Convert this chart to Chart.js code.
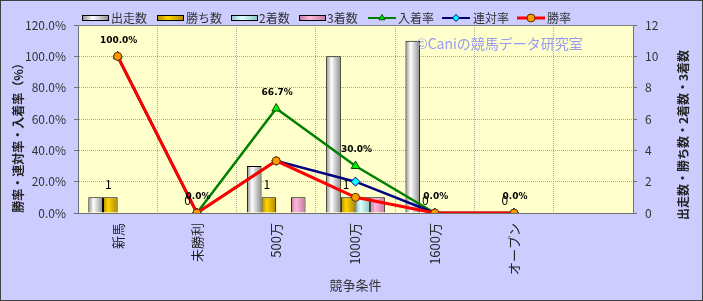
<!DOCTYPE html>
<html>
<head>
<meta charset="utf-8">
<script src="https://cdn.jsdelivr.net/npm/chart.js@4.4.0/dist/chart.umd.min.js"></script>
<style>
  html, body { margin: 0; padding: 0; background: #ccccff; }
  canvas { display: block; }
</style>
</head>
<body>
<canvas id="chart" width="703" height="301"></canvas>
<script>
// data
const labels = ['新馬', '未勝利', '500万', '1000万', '1600万', 'オープン', ''];
const starts = [1, 0, 3, 10, 11, 0, null];
const wins = [1, 0, 1, 1, 0, 0, null];
const seconds = [0, 0, 0, 1, 0, 0, null];
const thirds = [0, 0, 1, 1, 0, 0, null];
const placeRate = [100, 0, 66.7, 30, 0, 0, null];
const rentaiRate = [100, 0, 33.3, 20, 0, 0, null];
const winRate = [100, 0, 33.3, 10, 0, 0, null];

const FONT = '"Noto Sans CJK JP", "DejaVu Sans", sans-serif';
const CAT_PCT = 0.74;
const SHADES = [
    ['#e0e0e0', '#ffffff', '#8c8c8c'],
    ['#ffcc00', '#ffd400', '#b08800'],
    ['#ccffff', '#dfffff', '#88c4c4'],
    ['#f0a8d0', '#ffb8dc', '#c07aa0']
];

// cylinder-ish shading across each bar, worked out from the category scale
function shade(k) {
    const [base, light, dark] = SHADES[k];
    return (c) => {
        const sc = c.chart.scales.x;
        if (!sc || !isFinite(sc.width) || sc.width <= 0) return base;
        const bw = sc.width / labels.length * CAT_PCT / 4;
        const x0 = sc.getPixelForValue(c.dataIndex) - 2 * bw + k * bw;
        if (!isFinite(x0)) return base;
        const g = c.chart.ctx.createLinearGradient(x0, 0, x0 + bw, 0);
        g.addColorStop(0, dark);
        g.addColorStop(0.35, light);
        g.addColorStop(1, dark);
        return g;
    };
}
const noZeroBorder = (c) => (c.raw ? 1 : 0);

function bar(label, data, k) {
    return {
        type: 'bar', label: label, data: data, yAxisID: 'y1', order: 10 + k,
        backgroundColor: shade(k),
        borderColor: '#000', borderWidth: noZeroBorder,
        barPercentage: 1, categoryPercentage: CAT_PCT
    };
}

const data = {
    labels: labels,
    datasets: [
        bar('出走数', starts, 0),
        bar('勝ち数', wins, 1),
        bar('2着数', seconds, 2),
        bar('3着数', thirds, 3),
        {
            type: 'line', label: '入着率', data: placeRate, yAxisID: 'y', order: 2,
            borderColor: '#008000', borderWidth: 2.5,
            pointStyle: 'triangle', pointRadius: 5,
            pointBackgroundColor: '#00ee00', pointBorderColor: '#005000', pointBorderWidth: 1
        },
        {
            type: 'line', label: '連対率', data: rentaiRate, yAxisID: 'y', order: 1,
            borderColor: '#000080', borderWidth: 2.5,
            pointStyle: 'rectRot', pointRadius: 4.5,
            pointBackgroundColor: '#00ffff', pointBorderColor: '#000080', pointBorderWidth: 1
        },
        {
            type: 'line', label: '勝率', data: winRate, yAxisID: 'y', order: 0,
            borderColor: '#ff0000', borderWidth: 3,
            pointStyle: 'circle', pointRadius: 4,
            pointBackgroundColor: '#ff9900', pointBorderColor: '#603000', pointBorderWidth: 1
        }
    ]
};

// background, plot fill, frame, titles, watermark, legend, value labels
const decor = {
    id: 'decor',
    beforeDraw(chart) {
        const {ctx, chartArea: a, width, height} = chart;
        ctx.save();
        ctx.fillStyle = '#ccccff';
        ctx.fillRect(0, 0, width, height);
        ctx.fillStyle = '#ffffcc';
        ctx.fillRect(a.left, a.top, a.right - a.left, a.bottom - a.top);
        ctx.strokeStyle = '#404040';
        ctx.lineWidth = 1;
        ctx.strokeRect(0.5, 0.5, width - 1, height - 1);
        ctx.restore();
    },
    afterDraw(chart) {
        const {ctx, chartArea: a} = chart;
        ctx.save();
        ctx.strokeStyle = '#808080';
        ctx.lineWidth = 1;
        ctx.beginPath();
        ctx.moveTo(a.left, a.top + 0.5);
        ctx.lineTo(a.right, a.top + 0.5);
        ctx.stroke();

        // axis titles, both read bottom to top
        ctx.fillStyle = '#222';
        ctx.font = 'bold 12px ' + FONT;
        ctx.textAlign = 'center';
        ctx.textBaseline = 'middle';
        [[18, '勝率・連対率・入着率（%）'], [683, '出走数・勝ち数・2着数・3着数']].forEach(([x, t]) => {
            ctx.save();
            ctx.translate(x, 135);
            ctx.rotate(-Math.PI / 2);
            ctx.fillText(t, 0, 0);
            ctx.restore();
        });

        ctx.fillStyle = '#9a9af0';
        ctx.font = '14px ' + FONT;
        ctx.textAlign = 'left';
        ctx.fillText('©Caniの競馬データ研究室', 416, 44);

        // legend
        ctx.font = '12px ' + FONT;
        ctx.textBaseline = 'middle';
        const ly = 18;
        [[82, 111, 0], [157, 186, 1], [231, 259, 2], [299, 327, 3]].forEach(([bx, tx, i]) => {
            const [, light, dark] = SHADES[i];
            const g = ctx.createLinearGradient(bx, 0, bx + 27, 0);
            g.addColorStop(0, dark); g.addColorStop(0.4, light); g.addColorStop(1, dark);
            ctx.fillStyle = g;
            ctx.fillRect(bx, ly - 3, 27, 6);
            ctx.strokeStyle = '#000';
            ctx.lineWidth = 1;
            ctx.strokeRect(bx + 0.5, ly - 2.5, 26, 5);
            ctx.fillStyle = '#333';
            ctx.fillText(data.datasets[i].label, tx, ly);
        });
        [[368, 398, 4], [442, 473, 5], [517, 547, 6]].forEach(([lx, tx, i]) => {
            const ds = data.datasets[i];
            ctx.strokeStyle = ds.borderColor;
            ctx.lineWidth = i === 6 ? 3 : 2;
            ctx.beginPath();
            ctx.moveTo(lx, ly);
            ctx.lineTo(lx + 28, ly);
            ctx.stroke();
            ctx.lineWidth = 1;
            ctx.fillStyle = ds.pointBackgroundColor;
            ctx.strokeStyle = ds.pointBorderColor;
            Chart.helpers.drawPoint(ctx, {
                pointStyle: ds.pointStyle, radius: i === 6 ? 4 : 3.5, borderWidth: 1
            }, lx + 14, ly);
            ctx.fillStyle = '#333';
            ctx.fillText(ds.label, tx, ly);
        });
        ctx.restore();
    },
    afterDatasetsDraw(chart) {
        const {ctx} = chart;
        ctx.save();
        ctx.textAlign = 'center';
        ctx.textBaseline = 'middle';
        ctx.fillStyle = '#000';
        ctx.font = '12px ' + FONT;
        chart.getDatasetMeta(1).data.forEach((el, i) => {
            if (wins[i] === null) return;
            ctx.fillText(String(wins[i]), el.x - 2, el.y - 13);
        });
        ctx.font = 'bold 9px "DejaVu Sans", sans-serif';
        chart.getDatasetMeta(4).data.forEach((el, i) => {
            if (placeRate[i] === null) return;
            ctx.fillText(placeRate[i].toFixed(1) + '%', el.x + 1, el.y - 16);
        });
        ctx.restore();
    }
};

const config = {
    data: data,
    options: {
        responsive: false,
        animation: false,
        events: [],
        layout: {padding: {top: 25, left: 0, right: 0, bottom: 0}},
        plugins: {
            legend: {display: false},
            tooltip: {enabled: false}
        },
        scales: {
            x: {
                offset: true,
                grid: {color: '#a8a8a8', drawTicks: false, offset: true},
                border: {color: '#707070', dash: [1, 1]},
                ticks: {
                    autoSkip: false, maxRotation: 90, minRotation: 90, padding: 10,
                    color: '#222', font: {family: FONT, size: 13}
                },
                title: {
                    display: true, text: '競争条件', color: '#333',
                    font: {family: FONT, size: 13}, padding: {top: 0, bottom: 8}
                },
                afterFit: (s) => { s.height = 88; }
            },
            y: {
                position: 'left', min: 0, max: 120,
                grid: {color: '#a8a8a8', tickLength: 4, tickColor: '#707070'},
                border: {color: '#707070', dash: [1, 1]},
                ticks: {
                    stepSize: 20, padding: 8, color: '#333',
                    font: {family: FONT, size: 12},
                    callback: (v) => v.toFixed(1) + '%'
                },
                afterFit: (s) => { s.width = 78; }
            },
            y1: {
                position: 'right', min: 0, max: 12,
                grid: {drawOnChartArea: false, tickLength: 4, color: '#707070'},
                border: {color: '#707070'},
                ticks: {
                    stepSize: 2, padding: 8, color: '#333',
                    font: {family: FONT, size: 12}
                },
                afterFit: (s) => { s.width = 70; }
            }
        }
    },
    plugins: [decor]
};

const chart = new Chart(document.getElementById('chart'), config);
</script>
</body>
</html>
